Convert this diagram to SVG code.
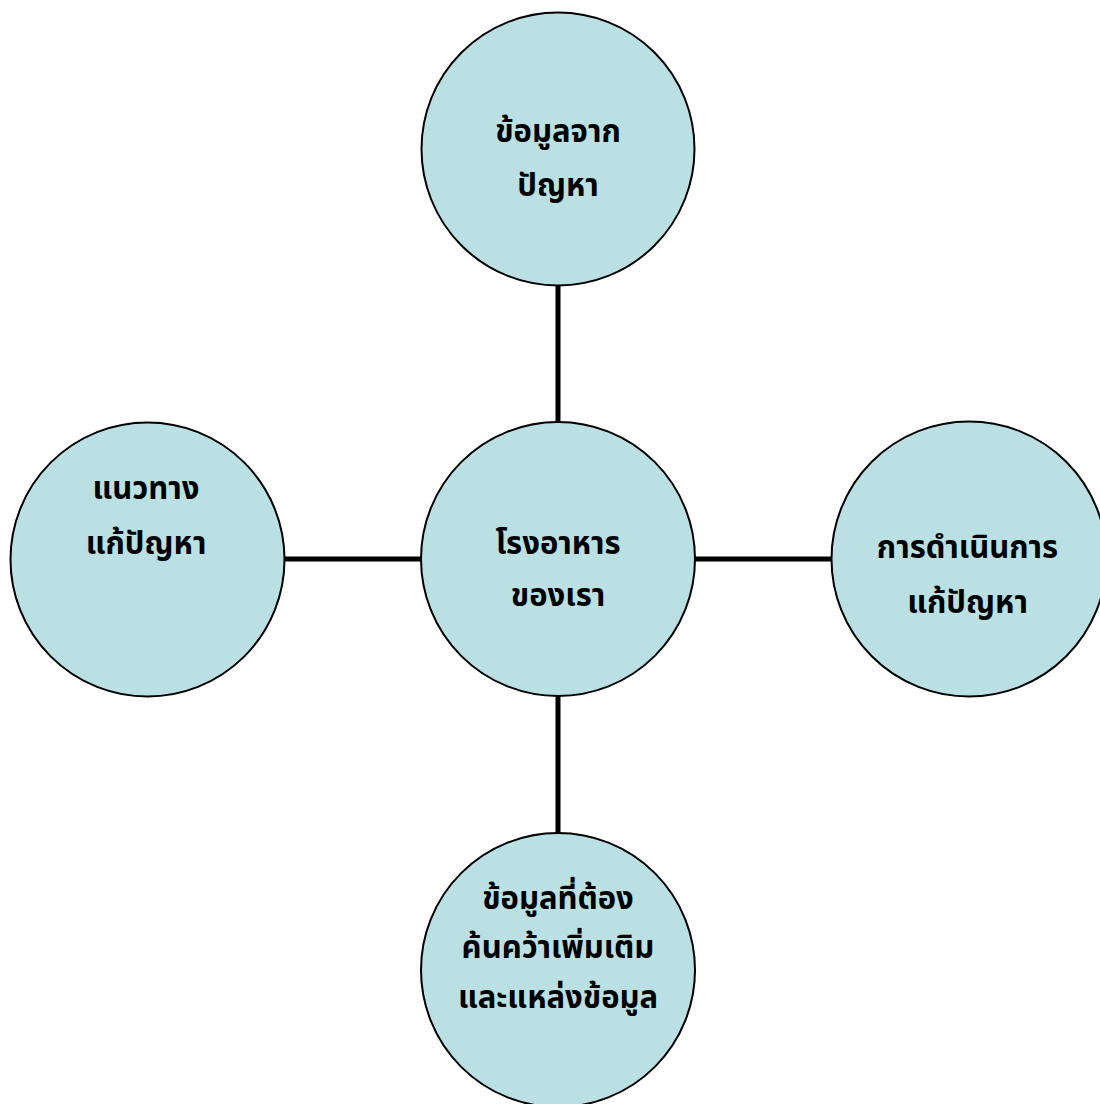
<svg xmlns="http://www.w3.org/2000/svg" width="1100" height="1104" viewBox="0 0 1100 1104">
<style>
.n{fill:#BBE0E3;stroke:#000;stroke-width:2}
.t{font-family:"Noto Sans Thai","Noto Sans","DejaVu Sans",sans-serif;font-weight:bold;font-size:31px;fill:#000;text-anchor:middle}
.c{stroke:#000;stroke-width:5;fill:none}
</style>
<rect width="1100" height="1104" fill="#fff"/>
<g id="connectors">
<line class="c" x1="558" y1="285" x2="558" y2="423"/>
<line class="c" x1="558" y1="696" x2="558" y2="833"/>
<line class="c" x1="285" y1="559" x2="421" y2="559"/>
<line class="c" x1="695" y1="559" x2="832" y2="559"/>
</g>
<g id="top">
<circle class="n" cx="558" cy="149" r="136.5"/>
<text class="t" x="558" y="142">ข้อมูลจาก</text>
<text class="t" x="558" y="196">ปัญหา</text>
</g>
<g id="left">
<circle class="n" cx="147.5" cy="559.5" r="137"/>
<text class="t" x="146" y="499">แนวทาง</text>
<text class="t" x="146" y="554">แก้ปัญหา</text>
</g>
<g id="center">
<circle class="n" cx="558" cy="559" r="137"/>
<text class="t" x="558" y="554">โรงอาหาร</text>
<text class="t" x="558" y="606">ของเรา</text>
</g>
<g id="right">
<circle class="n" cx="969" cy="559" r="137.5"/>
<text class="t" x="967.5" y="558">การดำเนินการ</text>
<text class="t" x="967.5" y="613">แก้ปัญหา</text>
</g>
<g id="bottom">
<circle class="n" cx="558" cy="970" r="137"/>
<text class="t" x="558" y="909">ข้อมูลที่ต้อง</text>
<text class="t" x="558" y="958">ค้นคว้าเพิ่มเติม</text>
<text class="t" x="558" y="1008">และแหล่งข้อมูล</text>
</g>
</svg>
